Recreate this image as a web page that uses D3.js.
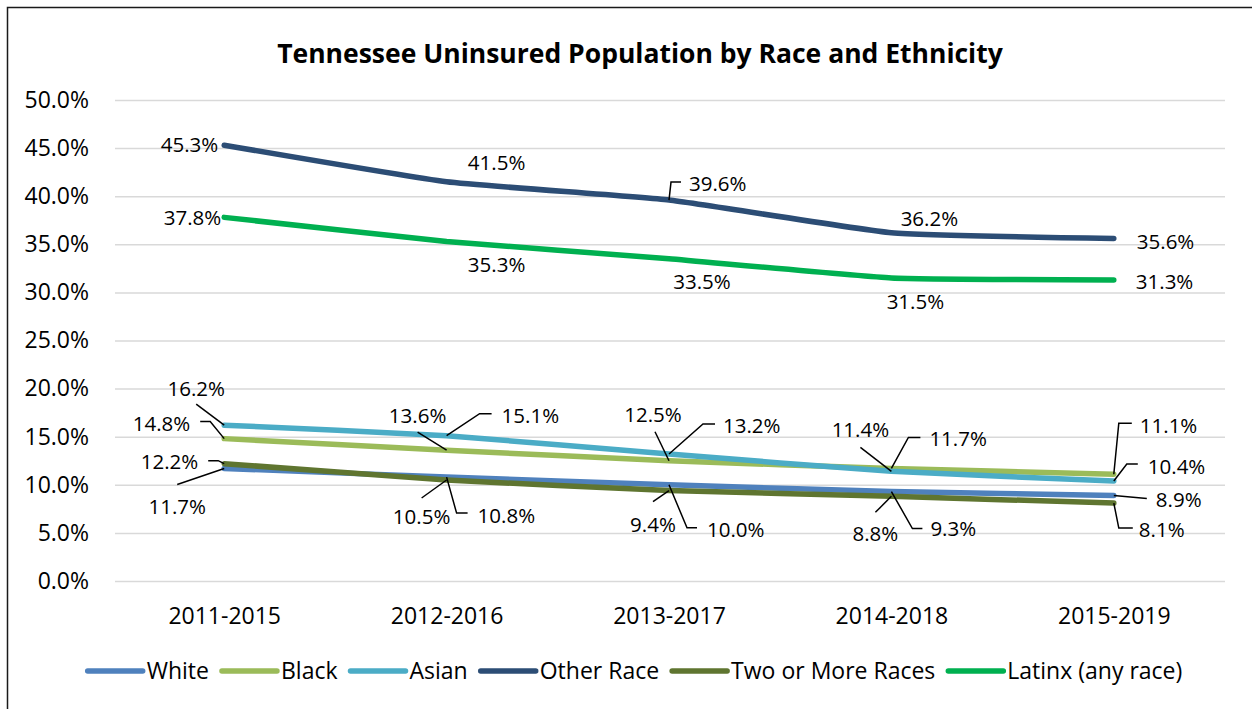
<!DOCTYPE html>
<html>
<head>
<meta charset="utf-8">
<script src="https://cdn.jsdelivr.net/npm/d3@7/dist/d3.min.js"></script>
<style>
  html, body { margin: 0; padding: 0; background: #fff; }
  svg { display: block; font-family: "Open Sans", "Noto Sans", sans-serif; }
</style>
</head>
<body>
<svg id="chart" width="1252" height="709"></svg>
<script>
// ---------------- data ----------------
const categories = ["2011-2015", "2012-2016", "2013-2017", "2014-2018", "2015-2019"];
const seriesNames = ["White", "Black", "Asian", "Other Race", "Two or More Races", "Latinx (any race)"];
const white     = [11.7, 10.8, 10.0, 9.3, 8.9];
const black     = [14.8, 13.6, 12.5, 11.7, 11.1];
const asian     = [16.2, 15.1, 13.2, 11.4, 10.4];
const otherRace = [45.3, 41.5, 39.6, 36.2, 35.6];
const twoOrMore = [12.2, 10.5, 9.4, 8.8, 8.1];
const latinx    = [37.8, 35.3, 33.5, 31.5, 31.3];
const yTicks    = [0, 5, 10, 15, 20, 25, 30, 35, 40, 45, 50];
const title = "Tennessee Uninsured Population by Race and Ethnicity";

// ---------------- styles ----------------
const colors = ["#4F81BD", "#9BBB59", "#4BACC6", "#2C4D75", "#5F7530", "#00B050"];
const values = [white, black, asian, otherRace, twoOrMore, latinx];

// label placement (pixel offsets from each point): [dx, dy, anchor, leader points]
const labelLayout = [
  // White
  [[-47, 38, "middle", [[0,0],[-47,16]]],
   [31, 39, "start", [[0,0],[10,36],[21,36]]],
   [38, 45, "start", [[0,0],[18,43],[28,43]]],
   [39, 37, "start", [[0,0],[21,37],[31,37]]],
   [42, 4, "start", [[0,0],[33,3]]]],
  // Black
  [[-34, -15, "end", [[0,0],[-14,-17],[-24,-17]]],
   [-29, -35, "middle", [[0,0],[-29,-18]]],
   [-16, -46, "middle", [[0,0],[-14,-29]]],
   [38, -30, "start", [[0,0],[17,-31],[29,-31]]],
   [26, -49, "start", [[0,0],[5,-51],[18,-51]]]],
  // Asian
  [[-28, -37, "middle", [[0,0],[-28,-21]]],
   [55, -20, "start", [[0,0],[33,-22],[45,-22]]],
   [54, -28, "start", [[0,0],[34,-30],[46,-30]]],
   [-31, -42, "middle", [[0,0],[-31,-24]]],
   [34, -14, "start", [[0,0],[13,-17],[24,-17]]]],
  // Other Race
  [[-6, -1, "end", null],
   [50, -19, "middle", null],
   [20, -16, "start", [[0,0],[2,-18],[12,-18]]],
   [38, -14, "middle", null],
   [23, 3.5, "start", null]],
  // Two or More
  [[-26, -2, "end", [[0,0],[-6,-3],[-16,-3]]],
   [-25, 37, "middle", [[0,0],[-25,18]]],
   [-16, 34, "middle", [[0,0],[-16,11]]],
   [-16, 37, "middle", [[0,0],[-16,16]]],
   [25, 27, "start", [[0,0],[5,25],[19,25]]]],
  // Latinx
  [[-3, 0, "end", null],
   [50, 23, "middle", null],
   [33, 23, "middle", null],
   [24, 24, "middle", null],
   [22, 2, "start", null]]
];

// ---------------- chart ----------------
const svg = d3.select("#chart");

svg.append("rect")
  .attr("x", 7.5).attr("y", 7.5)
  .attr("width", 1260).attr("height", 720)
  .attr("fill", "#fff").attr("stroke", "#1a1a1a").attr("stroke-width", 1.5);

const x = d3.scalePoint().domain(categories).range([113, 1225]).padding(0.5);
const y = d3.scaleLinear().domain([0, 50]).range([581, 100]);

// title
svg.append("text")
  .attr("x", 640).attr("y", 63)
  .attr("text-anchor", "middle")
  .attr("font-weight", "bold")
  .attr("font-size", 26.5)
  .attr("fill", "#000")
  .text(title);

// gridlines
const yAxis = d3.axisLeft(y).tickValues(yTicks).tickSize(-(1225 - 115)).tickFormat(d => d.toFixed(1) + "%");
const gy = svg.append("g").attr("transform", "translate(115,0)").call(yAxis);
gy.select(".domain").remove();
gy.selectAll(".tick line").attr("stroke", "#D9D9D9").attr("stroke-width", 1.5);
gy.selectAll(".tick text")
  .attr("x", -26)
  .attr("font-size", 23)
  .attr("fill", "#000")
  .attr("font-family", "'Open Sans', sans-serif");

// x axis labels
const xAxis = d3.axisBottom(x).tickSize(0).tickPadding(0);
const gx = svg.append("g").attr("transform", "translate(0,600)").call(xAxis);
gx.select(".domain").remove();
gx.selectAll(".tick text")
  .attr("y", 0).attr("dy", "1.05em")
  .attr("font-size", 23)
  .attr("fill", "#000")
  .attr("font-family", "'Open Sans', sans-serif");

// lines
const line = d3.line()
  .x((d, i) => x(categories[i]))
  .y(d => y(d))
  .curve(d3.curveCardinal.tension(0.6));

values.forEach((vals, s) => {
  svg.append("path")
    .datum(vals)
    .attr("d", line)
    .attr("fill", "none")
    .attr("stroke", colors[s])
    .attr("stroke-width", 5.5)
    .attr("stroke-linecap", "round")
    .attr("stroke-linejoin", "round");
});

// data labels + leaders
const lg = svg.append("g");
values.forEach((vals, s) => {
  vals.forEach((v, i) => {
    const px = x(categories[i]), py = y(v);
    const [dx, dy, anchor, leader] = labelLayout[s][i];
    if (leader) {
      lg.append("path")
        .attr("d", d3.line()(leader.map(p => [px + p[0], py + p[1]])))
        .attr("fill", "none")
        .attr("stroke", "#000")
        .attr("stroke-width", 1.5);
    }
    lg.append("text")
      .attr("x", px + dx).attr("y", py + dy)
      .attr("dy", "0.36em")
      .attr("text-anchor", anchor)
      .attr("font-size", 20.5)
      .attr("fill", "#000")
      .text(v.toFixed(1) + "%");
  });
});

// legend
const legend = svg.append("g").attr("transform", "translate(0,671)");
const items = [];
seriesNames.forEach((name, s) => {
  const g = legend.append("g");
  g.append("line")
    .attr("x1", 0).attr("x2", 55).attr("y1", 0).attr("y2", 0)
    .attr("stroke", colors[s]).attr("stroke-width", 5.5).attr("stroke-linecap", "round");
  const t = g.append("text")
    .attr("x", 59).attr("y", 0).attr("dy", "0.36em")
    .attr("font-size", 23).attr("fill", "#000")
    .text(name);
  const w = 59 + t.node().getComputedTextLength();
  items.push({ g, w });
});
const gap = 13;
const total = d3.sum(items, d => d.w) + gap * (items.length - 1);
let start = 635 - total / 2;
items.forEach(it => {
  it.g.attr("transform", `translate(${start},0)`);
  start += it.w + gap;
});
</script>
</body>
</html>
